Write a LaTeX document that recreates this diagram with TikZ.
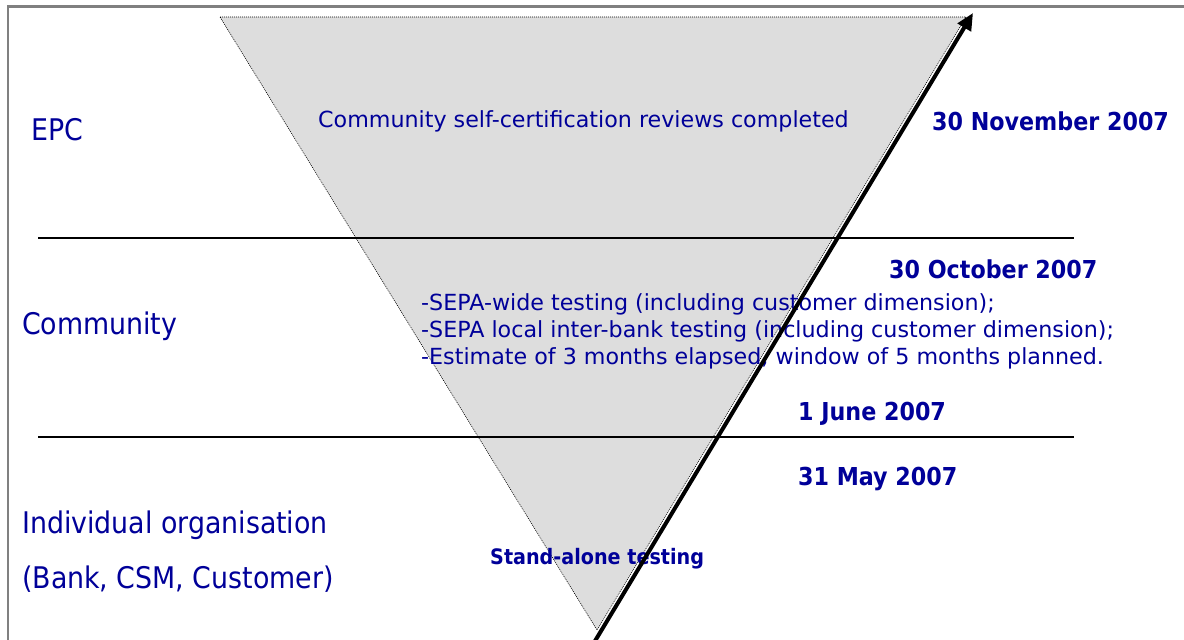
\documentclass[tikz,border=0pt]{standalone}
\usepackage{fontspec}
\setmainfont{DejaVu Sans Condensed}
\newfontfamily\widefont{DejaVu Sans}
\usetikzlibrary{arrows.meta}
\definecolor{navy}{RGB}{0,0,153}
\definecolor{framegray}{RGB}{128,128,128}
\definecolor{trigray}{RGB}{221,221,221}
\tikzset{
  lbl/.style={text=navy, inner sep=0pt, anchor=base west},
  bigtxt/.style={lbl, font=\fontsize{29.8}{34}\selectfont},
  midtxt/.style={lbl, font=\widefont\fontsize{22.2}{27}\selectfont},
  datetxt/.style={lbl, font=\fontsize{24.7}{30}\selectfont\bfseries},
  sepline/.style={black, line width=1.2pt},
  timearrow/.style={black, line width=4pt, -{Triangle[length=17pt,width=15pt]}},
}
\begin{document}
\begin{tikzpicture}[x=1pt,y=-1pt]
\useasboundingbox (0,0) rectangle (1184,640);
\fill[white] (0,0) rectangle (1184,640);
% frame
\draw[framegray, line width=2.5pt] (8,641) -- (8,6.5) -- (1185,6.5);
% triangle
\coordinate (tl) at (220,17);
\coordinate (tr) at (966,17);
\coordinate (ap) at (597,630);
\filldraw[fill=trigray, draw=black, line width=0.6pt, dash pattern=on 1pt off 1pt] (tl) -- (tr) -- (ap) -- cycle;
% separators
\coordinate (s1a) at (38,238); \coordinate (s1b) at (1074,238);
\coordinate (s2a) at (38,437); \coordinate (s2b) at (1074,437);
\draw[sepline] (s1a) -- (s1b);
\draw[sepline] (s2a) -- (s2b);
% left labels
\node[bigtxt] (epc) at (31,140) {EPC};
\node[bigtxt] (comm) at (22,334) {Community};
\node[bigtxt] (indiv) at (22,533) {Individual organisation};
\node[bigtxt] (bank) at (22,588) {(Bank, CSM, Customer)};
% middle texts
\node[midtxt] (review) at (318,127) {Community self-certification reviews completed};
\node[midtxt] (sepa1) at (421,310) {-SEPA-wide testing (including customer dimension);};
\node[midtxt] (sepa2) at (421,337) {-SEPA local inter-bank testing (including customer dimension);};
\node[midtxt] (sepa3) at (421,364) {-Estimate of 3 months elapsed, window of 5 months planned.};
\node[lbl, font=\fontsize{21.3}{26}\selectfont\bfseries] (stand) at (490,564) {Stand-alone testing};
% dates
\node[datetxt] (nov) at (932,130) {30 November 2007};
\node[datetxt] (oct) at (889,278) {30 October 2007};
\node[datetxt] (jun) at (798,420) {1 June 2007};
\node[datetxt] (may) at (798,485) {31 May 2007};
% time arrow
\coordinate (astart) at (595,641);
\coordinate (aend) at (973,13);
\draw[timearrow] (astart) -- (aend);
\end{tikzpicture}
\end{document}
